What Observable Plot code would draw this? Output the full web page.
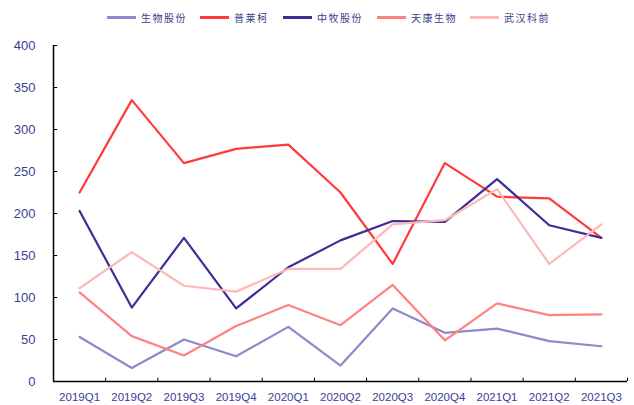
<!DOCTYPE html>
<html>
<head>
<meta charset="utf-8">
<script src="https://cdn.jsdelivr.net/npm/d3@7"></script>
<script src="https://cdn.jsdelivr.net/npm/@observablehq/plot@0.6"></script>
<style>
  html, body { margin: 0; padding: 0; background: #fff; }
  #wrap { width: 634px; height: 405px; position: relative; }
  #legend { position: absolute; left: 0; top: 0; width: 634px; height: 30px; }
  .item { position: absolute; top: 10px; display: flex; align-items: center; font-family: "Noto Sans CJK SC", sans-serif; font-size: 10px; color: #3a3a8c; letter-spacing: 1.5px; }
  .sw { display: inline-block; width: 29px; height: 3px; margin-right: 5px; }
  #chart { position: absolute; left: 0; top: 30px; }
</style>
</head>
<body>
<div id="wrap">
  <div id="legend"></div>
  <div id="chart"></div>
</div>
<script>
const quarters = ["2019Q1","2019Q2","2019Q3","2019Q4","2020Q1","2020Q2","2020Q3","2020Q4","2021Q1","2021Q2","2021Q3"];
const seriesNames = ["生物股份","普莱柯","中牧股份","天康生物","武汉科前"];
const shengwu  = [53, 16, 50, 30, 65, 19, 87, 58, 63, 48, 42];
const pulaike  = [225, 335, 260, 277, 282, 225, 140, 260, 220, 218, 171];
const zhongmu  = [203, 88, 171, 87, 136, 168, 191, 190, 241, 186, 171];
const tiankang = [106, 54, 31, 66, 91, 67, 115, 49, 93, 79, 80];
const wuhan    = [111, 154, 114, 107, 134, 134, 187, 192, 229, 140, 187];
const yTicks = [0, 50, 100, 150, 200, 250, 300, 350, 400];

const colors = ["#9088c8", "#ff3a3a", "#3d2e96", "#ff8282", "#ffb8b8"];
const values = [shengwu, pulaike, zhongmu, tiankang, wuhan];

const data = [];
seriesNames.forEach((s, si) => {
  values[si].forEach((v, i) => data.push({series: s, i, q: quarters[i], v}));
});

const idx = quarters.map((q, i) => i);
const boundaries = quarters.map((q, i) => i - 0.5).concat([quarters.length - 0.5]);

// legend
const legendX = [107, 200, 283, 377, 470];
const legend = document.getElementById("legend");
seriesNames.forEach((s, si) => {
  const d = document.createElement("div");
  d.className = "item";
  d.style.left = legendX[si] + "px";
  d.innerHTML = `<span class="sw" style="background:${colors[si]}"></span><span>${s}</span>`;
  legend.appendChild(d);
});

const chart = Plot.plot({
  width: 634,
  height: 375,
  marginLeft: 53,
  marginRight: 7,
  marginTop: 15,
  marginBottom: 24,
  style: { fontFamily: "'Liberation Sans', Arial, sans-serif", background: "#fff" },
  x: { type: "linear", domain: [-0.5, quarters.length - 0.5] },
  y: { domain: [0, 400] },
  color: { domain: seriesNames, range: colors },
  marks: [
    Plot.axisY({ ticks: yTicks, tickSize: 0, tickPadding: 18, color: "#3c3c96", fontSize: 13, label: null }),
    Plot.axisX({ ticks: idx, tickSize: 0, tickPadding: 11, tickFormat: i => quarters[i], color: "#3c3c96", fontSize: 11.5, label: null }),
    Plot.ruleX(boundaries, { x: d => d, y1: 0, y2: 4, stroke: "#000", strokeWidth: 1 }),
    Plot.ruleY(yTicks, { y: d => d, x1: -0.5, x2: -0.42, stroke: "#000", strokeWidth: 1 }),
    Plot.ruleX([-0.5], { stroke: "#000", strokeWidth: 1.5 }),
    Plot.ruleY([0], { stroke: "#000", strokeWidth: 1.5 }),
    Plot.line(data, { x: "i", y: "v", z: "series", stroke: "series", strokeWidth: 2.2, curve: "linear" })
  ]
});
document.getElementById("chart").appendChild(chart);
</script>
</body>
</html>
